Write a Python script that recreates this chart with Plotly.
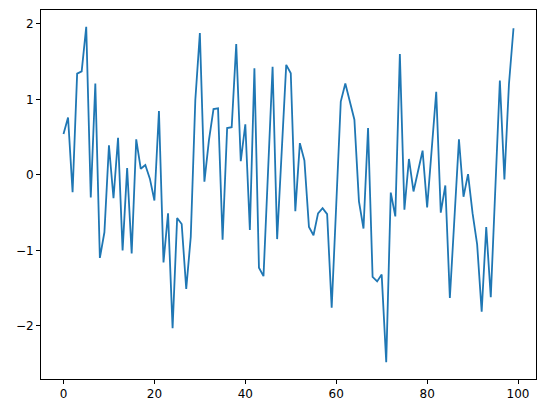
import plotly.graph_objects as go

x_index = list(range(100))
values = [
    0.54, 0.76, -0.23, 1.34, 1.37, 1.96, -0.30, 1.21, -1.10, -0.76,
    0.39, -0.31, 0.49, -1.00, 0.09, -1.04, 0.47, 0.08, 0.13, -0.05,
    -0.34, 0.845, -1.16, -0.51, -2.03, -0.57, -0.65, -1.51, -0.82, 0.99,
    1.876, -0.09, 0.46, 0.87, 0.88, -0.86, 0.62, 0.63, 1.73, 0.18,
    0.67, -0.73, 1.41, -1.23, -1.34, 0.05, 1.43, -0.85, 0.30, 1.456,
    1.345, -0.48, 0.42, 0.19, -0.69, -0.80, -0.51, -0.44, -0.52, -1.76,
    -0.40, 0.97, 1.21, 0.97, 0.73, -0.35, -0.71, 0.62, -1.35, -1.41,
    -1.32, -2.48, -0.235, -0.55, 1.60, -0.46, 0.21, -0.22, 0.05, 0.32,
    -0.43, 0.34, 1.10, -0.50, -0.14, -1.63, -0.55, 0.47, -0.29, 0.01,
    -0.51, -0.92, -1.81, -0.69, -1.62, -0.19, 1.25, -0.06, 1.20, 1.94,
]
x_ticks = [0, 20, 40, 60, 80, 100]
y_ticks = [-2, -1, 0, 1, 2]

xmin, xmax = min(x_index), max(x_index)
ymin, ymax = min(values), max(values)
xpad = 0.05 * (xmax - xmin)
ypad = 0.05 * (ymax - ymin)

fig = go.Figure()
fig.add_trace(go.Scatter(
    x=x_index, y=values, mode="lines",
    line=dict(color="#1f77b4", width=1.8),
    showlegend=False, hoverinfo="skip",
))

axis_common = dict(
    showgrid=False, zeroline=False,
    showline=True, linecolor="black", linewidth=1, mirror=True,
    ticks="outside", ticklen=4, tickwidth=1, tickcolor="black",
    tickfont=dict(family="DejaVu Sans", size=12, color="black"),
)

fig.update_layout(
    width=546, height=413,
    margin=dict(l=41, r=10, t=10, b=34),
    paper_bgcolor="white", plot_bgcolor="white",
    xaxis=dict(range=[xmin - xpad, xmax + xpad], tickvals=x_ticks, **axis_common),
    yaxis=dict(range=[ymin - ypad, ymax + ypad], tickvals=y_ticks, **axis_common),
)

fig.write_html(
    "out.html",
    config={"displayModeBar": False},
    post_script="document.body.style.margin='0';document.body.style.overflow='hidden';",
)
